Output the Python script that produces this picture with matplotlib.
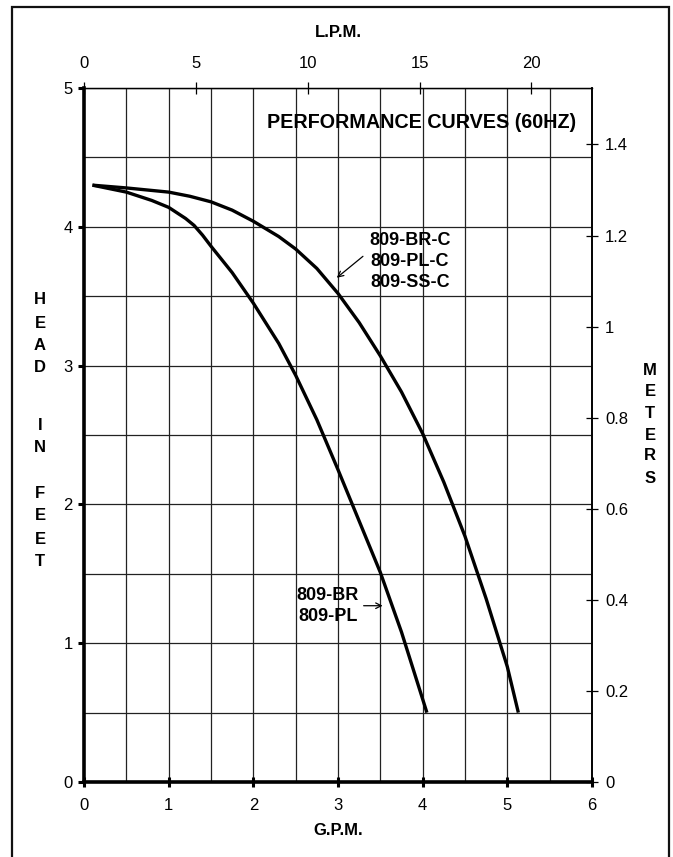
import matplotlib
matplotlib.use("Agg")
import matplotlib.pyplot as plt
from matplotlib.patches import Rectangle
import numpy as np

plt.rcParams['font.family'] = ['Liberation Sans', 'DejaVu Sans']

# Data (GPM vs head in feet)
inner_gpm = [0.10, 0.50, 0.80, 1.00, 1.10, 1.20, 1.30, 1.40, 1.50, 1.75, 2.00, 2.30, 2.50, 2.75, 3.00, 3.25, 3.50, 3.75, 4.05]
inner_ft = [4.30, 4.25, 4.19, 4.14, 4.10, 4.06, 4.01, 3.94, 3.86, 3.67, 3.45, 3.16, 2.93, 2.61, 2.25, 1.88, 1.51, 1.08, 0.50]
outer_gpm = [0.10, 0.50, 1.00, 1.25, 1.50, 1.75, 2.00, 2.30, 2.50, 2.75, 3.00, 3.25, 3.50, 3.75, 4.00, 4.25, 4.50, 4.75, 5.00, 5.13]
outer_ft = [4.30, 4.28, 4.25, 4.22, 4.18, 4.12, 4.04, 3.93, 3.84, 3.70, 3.52, 3.31, 3.07, 2.81, 2.51, 2.16, 1.77, 1.32, 0.83, 0.50]

gpm_ticks = [0, 1, 2, 3, 4, 5, 6]
ft_ticks = [0, 1, 2, 3, 4, 5]
lpm_ticks = [0, 5, 10, 15, 20]
m_ticks = [0, 0.2, 0.4, 0.6, 0.8, 1.0, 1.2, 1.4]
m_labels = ["0", "0.2", "0.4", "0.6", "0.8", "1", "1.2", "1.4"]

GPM2LPM = 3.785
FT2M = 0.3048

fig = plt.figure(figsize=(6.73, 8.57), dpi=100)
ax = fig.add_axes([84/673, 1-782/857, (592-84)/673, (782-88)/857])

ax.set_xlim(0, 6)
ax.set_ylim(0, 5)

# grid
for gx in np.arange(0.5, 6.0, 0.5):
    ax.axvline(gx, color='#222222', lw=0.9, zorder=1)
for gy in np.arange(0.5, 5.01, 0.5):
    ax.axhline(gy, color='#222222', lw=0.9, zorder=1)

ax.plot(inner_gpm, inner_ft, color='black', lw=2.4, solid_capstyle='butt', zorder=3)
ax.plot(outer_gpm, outer_ft, color='black', lw=2.4, solid_capstyle='butt', zorder=3)

for s in ['left', 'bottom']:
    ax.spines[s].set_linewidth(2.6)
ax.spines['top'].set_linewidth(0.9)
ax.spines['right'].set_linewidth(1.2)

TS = 12
ax.set_xticks(gpm_ticks)
ax.set_xticklabels([str(t) for t in gpm_ticks])
ax.set_yticks(ft_ticks)
ax.set_yticklabels([str(t) for t in ft_ticks])
ax.tick_params(axis='x', direction='inout', length=7, width=2.2, labelsize=TS, pad=8)
ax.tick_params(axis='y', direction='out', length=4, width=2.2, labelsize=TS, pad=4)

ax.set_xlabel('G.P.M.', fontsize=12, fontweight='bold', labelpad=7)

# top axis LPM
top = ax.secondary_xaxis('top', functions=(lambda x: x*GPM2LPM, lambda x: x/GPM2LPM))
top.set_xticks(lpm_ticks)
top.set_xticklabels([str(t) for t in lpm_ticks])
top.tick_params(direction='inout', length=8, width=0.9, labelsize=TS, pad=8)
top.spines['top'].set_linewidth(0.9)
top.set_xlabel('L.P.M.', fontsize=12, fontweight='bold', labelpad=14)

# right axis meters
right = ax.secondary_yaxis('right', functions=(lambda y: y*FT2M, lambda y: y/FT2M))
right.set_yticks(m_ticks)
right.set_yticklabels(m_labels)
right.tick_params(direction='inout', length=9, width=0.9, labelsize=TS, pad=5)
right.spines['right'].set_linewidth(1.2)

# vertical stacked axis labels
def stacked(x_px, ys_px, letters):
    for ch, yp in zip(letters, ys_px):
        fig.text(x_px/673, 1-yp/857, ch, ha='center', va='center',
                 fontsize=12, fontweight='bold')

stacked(40, [300, 323, 345, 368, 425, 448, 493, 516, 540, 562],
        ['H', 'E', 'A', 'D', 'I', 'N', 'F', 'E', 'E', 'T'])
stacked(650, [370, 392, 413, 435, 456, 478], ['M', 'E', 'T', 'E', 'R', 'S'])

ax.text(3.99, 4.755, 'PERFORMANCE CURVES (60HZ)', ha='center', va='center',
        fontsize=14.2, fontweight='bold', zorder=4)

ax.text(3.85, 3.75, '809-BR-C\n809-PL-C\n809-SS-C', ha='center', va='center',
        fontsize=13, fontweight='bold', linespacing=1.3, zorder=4)
ax.annotate('', xy=(2.96, 3.62), xytext=(3.32, 3.80),
            arrowprops=dict(arrowstyle='->', color='black', lw=0.9))

ax.text(2.88, 1.27, '809-BR\n809-PL', ha='center', va='center',
        fontsize=13, fontweight='bold', linespacing=1.3, zorder=4)
ax.annotate('', xy=(3.56, 1.27), xytext=(3.27, 1.27),
            arrowprops=dict(arrowstyle='->', color='black', lw=0.9))

# outer frame
fig.patches.append(Rectangle((12/673, -0.01), (669-12)/673, 1-7/857+0.01,
                             transform=fig.transFigure, fill=False,
                             edgecolor='#111111', lw=1.6))

fig.savefig('out.png', dpi=100)
